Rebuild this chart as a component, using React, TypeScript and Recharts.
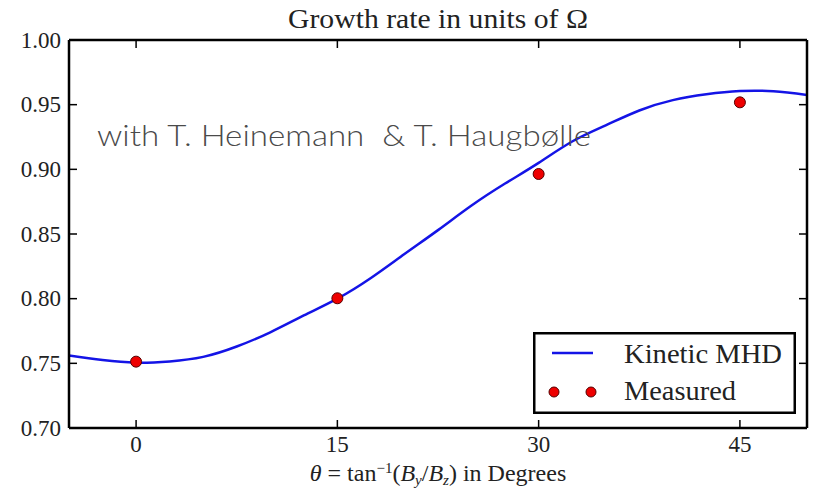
import React from 'react';
import { ComposedChart, Line, Scatter, XAxis, YAxis, Legend } from 'recharts';

// kinetic MHD prediction, sampled along theta
const fitTheta = [-5, -2.5, 0, 2.5, 5, 7.5, 10, 12.5, 15, 17.5, 20, 22.5, 25, 27.5, 30, 32.5, 35, 37.5, 40, 42.5, 45, 47.5, 50];
const fitRate = [0.756, 0.7525, 0.7505, 0.7515, 0.755, 0.763, 0.774, 0.787, 0.8, 0.816, 0.8345, 0.853, 0.872, 0.889, 0.905, 0.9215, 0.934, 0.9455, 0.9535, 0.958, 0.9605, 0.9603, 0.9575];

// simulation results
const measuredTheta = [0, 15, 30, 45];
const measuredRate = [0.7513, 0.8003, 0.8964, 0.9518];

const xTicks = [0, 15, 30, 45];
const yTicks = [0.7, 0.75, 0.8, 0.85, 0.9, 0.95, 1.0];
const xDomain: [number, number] = [-5, 50];
const yDomain: [number, number] = [0.7, 1.0];

const fitData = fitTheta.map((theta, i) => ({ theta, rate: fitRate[i] }));
const measuredData = measuredTheta.map((theta, i) => ({ theta, rate: measuredRate[i] }));

const SERIF = '"Liberation Serif", "Times New Roman", serif';
const BLUE = '#1414e6';
const RED = '#ee0000';
const TICK_LEN = 8;
const frameLine = { stroke: '#000', strokeWidth: 2.5 };

const BottomTick = (props: any) => {
  const { x, y, payload } = props;
  return (
    <g>
      <line x1={x} y1={y} x2={x} y2={y - TICK_LEN} stroke="#000" strokeWidth={1.5} />
      <text x={x} y={y + 16} textAnchor="middle" dominantBaseline="central" fontFamily={SERIF} fontSize={23} fill="#222">
        {payload.value}
      </text>
    </g>
  );
};

const TopTick = (props: any) => {
  const { x, y } = props;
  return <line x1={x} y1={y} x2={x} y2={y + TICK_LEN} stroke="#000" strokeWidth={1.5} />;
};

const LeftTick = (props: any) => {
  const { x, y, payload } = props;
  return (
    <g>
      <line x1={x} y1={y} x2={x + TICK_LEN} y2={y} stroke="#000" strokeWidth={1.5} />
      <text x={x - 8} y={y} textAnchor="end" dominantBaseline="central" fontFamily={SERIF} fontSize={23} fill="#222">
        {Number(payload.value).toFixed(2)}
      </text>
    </g>
  );
};

const RightTick = (props: any) => {
  const { x, y } = props;
  return <line x1={x} y1={y} x2={x - TICK_LEN} y2={y} stroke="#000" strokeWidth={1.5} />;
};

const Dot = (props: any) => (
  <circle cx={props.cx} cy={props.cy} r={5.5} fill={RED} stroke="#550000" strokeWidth={1} />
);

const renderLegend = (props: any) => {
  const items = [...(props.payload ?? [])].sort((a: any, b: any) => (a.type === 'line' ? -1 : b.type === 'line' ? 1 : 0));
  return (
    <svg width={263} height={82} style={{ display: 'block' }}>
      <rect x={1.25} y={1.25} width={260.5} height={79.5} fill="#fff" stroke="#000" strokeWidth={2.5} />
      {items.map((entry: any, i: number) => {
        const cy = i === 0 ? 21 : 60;
        const base = i === 0 ? 31 : 68;
        const label = String(entry.value);
        return (
          <g key={label}>
            {entry.type === 'line' ? (
              <line x1={19} y1={cy} x2={60} y2={cy} stroke={BLUE} strokeWidth={2.5} />
            ) : (
              <>
                <circle cx={21} cy={cy} r={5} fill={RED} stroke="#550000" strokeWidth={1} />
                <circle cx={58} cy={cy} r={5} fill={RED} stroke="#550000" strokeWidth={1} />
              </>
            )}
            <text
              x={91}
              y={base}
              fontFamily={SERIF}
              fontSize={26.5}
              fill="#222"
              textLength={label === 'Kinetic MHD' ? 158 : 112}
              lengthAdjust="spacingAndGlyphs"
            >
              {label}
            </text>
          </g>
        );
      })}
    </svg>
  );
};

export default function App() {
  return (
    <div style={{ position: 'absolute', left: 0, top: 0, width: 813, height: 492, background: '#fff' }}>
      <ComposedChart width={813} height={492} margin={{ top: 39, right: 5, bottom: 0, left: 0 }}>
        <XAxis
          dataKey="theta"
          type="number"
          domain={xDomain}
          ticks={xTicks}
          allowDataOverflow
          height={64}
          tickSize={0}
          tickMargin={0}
          tickLine={false}
          axisLine={frameLine}
          tick={BottomTick}
        />
        {/* top and right axes only close the frame and carry inward ticks */}
        <XAxis
          xAxisId="top"
          dataKey="theta"
          orientation="top"
          type="number"
          domain={xDomain}
          ticks={xTicks}
          allowDataOverflow
          height={1}
          tickSize={0}
          tickMargin={0}
          tickLine={false}
          axisLine={frameLine}
          tick={TopTick}
        />
        <YAxis
          type="number"
          domain={yDomain}
          ticks={yTicks}
          allowDataOverflow
          width={69}
          tickSize={0}
          tickMargin={0}
          tickLine={false}
          axisLine={frameLine}
          tick={LeftTick}
        />
        <YAxis
          yAxisId="right"
          orientation="right"
          type="number"
          domain={yDomain}
          ticks={yTicks}
          allowDataOverflow
          width={1}
          tickSize={0}
          tickMargin={0}
          tickLine={false}
          axisLine={frameLine}
          tick={RightTick}
        />
        <Line
          data={fitData}
          dataKey="rate"
          name="Kinetic MHD"
          type="natural"
          stroke={BLUE}
          strokeWidth={2.5}
          dot={false}
          activeDot={false}
          legendType="line"
          isAnimationActive={false}
        />
        <Scatter
          data={measuredData}
          dataKey="rate"
          name="Measured"
          xAxisId="top"
          yAxisId="right"
          fill={RED}
          shape={Dot}
          legendType="circle"
          isAnimationActive={false}
        />
        <Legend
          layout="horizontal"
          align="center"
          verticalAlign="middle"
          content={renderLegend}
          wrapperStyle={{ left: 533, top: 332, width: 263, height: 82, right: 'auto', bottom: 'auto' }}
        />
      </ComposedChart>
      <svg width={813} height={492} style={{ position: 'absolute', left: 0, top: 0, pointerEvents: 'none' }}>
        <text x={438} y={28} textAnchor="middle" fontFamily={SERIF} fontSize={26.5} fill="#222" textLength={300} lengthAdjust="spacingAndGlyphs">
          Growth rate in units of Ω
        </text>
        <text x={438} y={481} textAnchor="middle" fontFamily={SERIF} fontSize={24} fill="#222">
          <tspan fontStyle="italic">θ</tspan>
          {' = tan'}
          <tspan dy={-8} fontSize={15}>−1</tspan>
          <tspan dy={8}>(</tspan>
          <tspan fontStyle="italic">B</tspan>
          <tspan dy={4} fontSize={15} fontStyle="italic">y</tspan>
          <tspan dy={-4}>/</tspan>
          <tspan fontStyle="italic">B</tspan>
          <tspan dy={4} fontSize={15} fontStyle="italic">z</tspan>
          <tspan dy={-4}>{') in Degrees'}</tspan>
        </text>
        <text
          x={97}
          y={146}
          fontFamily="Lato, 'Open Sans', sans-serif"
          fontWeight={300}
          fontSize={29}
          fill="#4a4a4a"
          textLength={494}
          lengthAdjust="spacingAndGlyphs"
          style={{ whiteSpace: 'pre' }}
        >
          {'with T. Heinemann  & T. Haugbølle'}
        </text>
      </svg>
    </div>
  );
}
